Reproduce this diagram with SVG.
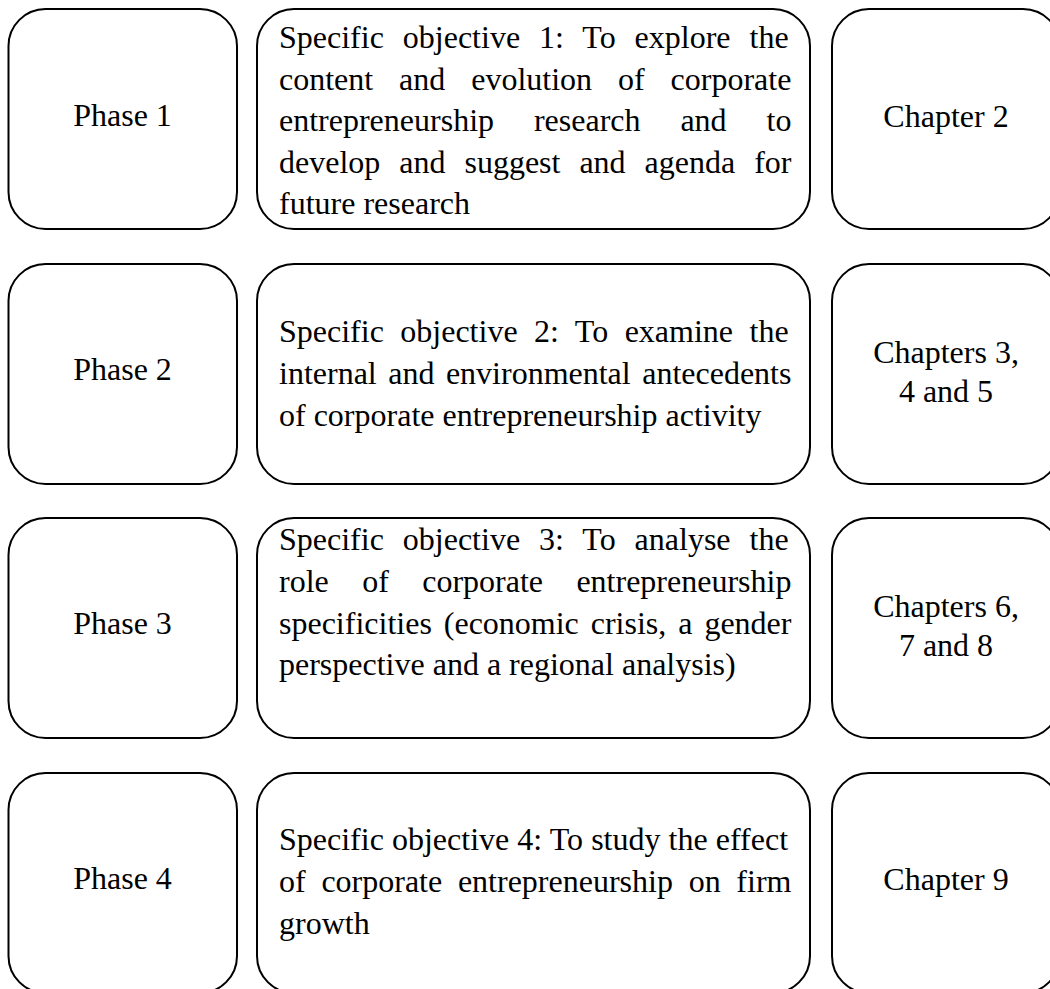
<svg xmlns="http://www.w3.org/2000/svg" width="1050" height="989" viewBox="0 0 1050 989">
<style>
.box{fill:#fff;stroke:#000;stroke-width:2}
text{font-family:"Liberation Serif","Times New Roman",serif;font-size:32px;fill:#000;font-variant-ligatures:none}
.c{text-anchor:middle}
</style>
<rect width="1050" height="989" fill="#fff"/>
<g id="connectors"></g>
<g id="phase1"><rect class="box" x="8.5" y="9" width="228.5" height="220" rx="37"/><text class="c" x="122.5" y="126">Phase 1</text></g>
<g id="objective1"><rect class="box" x="257" y="9" width="553" height="220" rx="37"/>
<text x="279" y="48" word-spacing="10.96">Specific objective 1: To explore the</text>
<text x="279" y="89.5" word-spacing="17.9">content and evolution of corporate</text>
<text x="279" y="131" word-spacing="31.9">entrepreneurship research and to</text>
<text x="279" y="172.5" word-spacing="10.97">develop and suggest and agenda for</text>
<text x="279" y="214">future research</text></g>
<g id="chapter2"><rect class="box" x="832" y="9" width="228" height="220" rx="37"/><text class="c" x="946" y="127">Chapter 2</text></g>

<g id="phase2"><rect class="box" x="8.5" y="264" width="228.5" height="220" rx="37"/><text class="c" x="122.5" y="380">Phase 2</text></g>
<g id="objective2"><rect class="box" x="257" y="264" width="553" height="220" rx="37"/>
<text x="279" y="342" word-spacing="8.47">Specific objective 2: To examine the</text>
<text x="279" y="384" word-spacing="3.47">internal and environmental antecedents</text>
<text x="279" y="426">of corporate entrepreneurship activity</text></g>
<g id="chapter345"><rect class="box" x="832" y="264" width="228" height="220" rx="37"/><text class="c" x="946" y="363">Chapters 3,</text><text class="c" x="946" y="402">4 and 5</text></g>

<g id="phase3"><rect class="box" x="8.5" y="518" width="228.5" height="220" rx="37"/><text class="c" x="122.5" y="634">Phase 3</text></g>
<g id="objective3"><rect class="box" x="257" y="518" width="553" height="220" rx="37"/>
<text x="279" y="550" word-spacing="10.96">Specific objective 3: To analyse the</text>
<text x="279" y="592" word-spacing="25.4">role of corporate entrepreneurship</text>
<text x="279" y="634" word-spacing="3.94">specificities (economic crisis, a gender</text>
<text x="279" y="675">perspective and a regional analysis)</text></g>
<g id="chapter678"><rect class="box" x="832" y="518" width="228" height="220" rx="37"/><text class="c" x="946" y="617">Chapters 6,</text><text class="c" x="946" y="656">7 and 8</text></g>

<g id="phase4"><rect class="box" x="8.5" y="773" width="228.5" height="220" rx="37"/><text class="c" x="122.5" y="889">Phase 4</text></g>
<g id="objective4"><rect class="box" x="257" y="773" width="553" height="220" rx="37"/>
<text x="279" y="850" word-spacing="0.1">Specific objective 4: To study the effect</text>
<text x="279" y="892" word-spacing="7.72">of corporate entrepreneurship on firm</text>
<text x="279" y="934">growth</text></g>
<g id="chapter9"><rect class="box" x="832" y="773" width="228" height="220" rx="37"/><text class="c" x="946" y="890">Chapter 9</text></g>
</svg>
